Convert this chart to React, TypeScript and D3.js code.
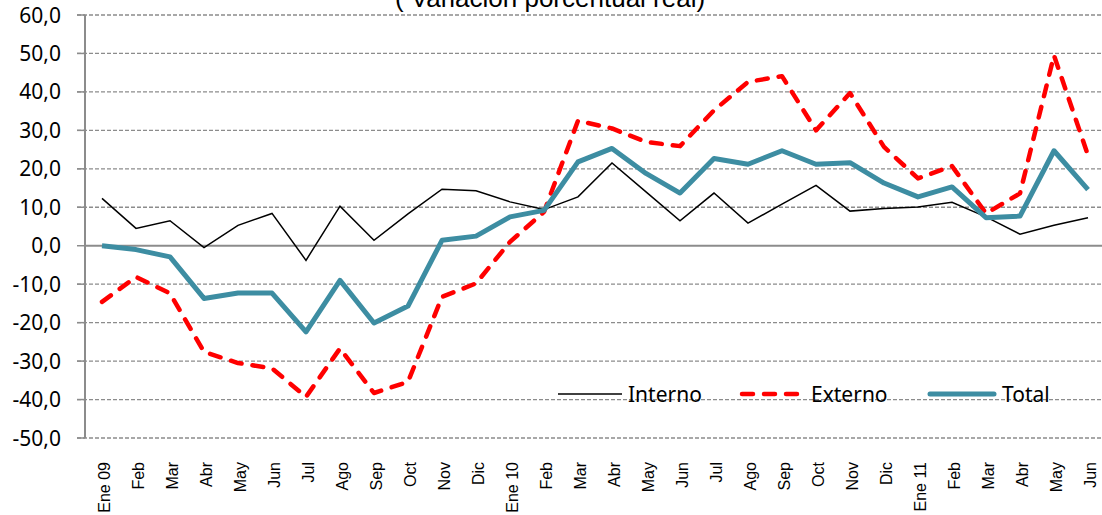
import React from "react";
import * as d3 from "d3";

const months = [
  "Ene 09", "Feb", "Mar", "Abr", "May", "Jun", "Jul", "Ago", "Sep", "Oct", "Nov", "Dic",
  "Ene 10", "Feb", "Mar", "Abr", "May", "Jun", "Jul", "Ago", "Sep", "Oct", "Nov", "Dic",
  "Ene 11", "Feb", "Mar", "Abr", "May", "Jun",
];

const interno = [
  12.3, 4.5, 6.5, -0.5, 5.3, 8.4, -3.8, 10.3, 1.4, 8.3, 14.7, 14.3,
  11.4, 9.4, 12.7, 21.5, 14.0, 6.5, 13.7, 5.9, 10.8, 15.7, 9.0, 9.7,
  10.1, 11.3, 7.5, 3.0, 5.3, 7.3,
];

const externo = [
  -14.6, -8.1, -12.4, -27.6, -30.5, -31.9, -39.3, -26.7, -38.3, -35.4, -13.3, -9.8,
  1.0, 8.8, 32.5, 30.5, 27.0, 25.9, 35.2, 42.6, 44.1, 30.0, 39.7, 25.7,
  17.5, 20.7, 8.4, 13.6, 49.5, 23.5,
];

const total = [
  0.0, -1.0, -2.9, -13.7, -12.3, -12.3, -22.4, -9.0, -20.1, -15.7, 1.4, 2.5,
  7.5, 9.2, 21.8, 25.3, 18.8, 13.7, 22.7, 21.2, 24.7, 21.2, 21.6, 16.3,
  12.7, 15.3, 7.3, 7.7, 24.7, 14.6,
];

const yTicks = [60, 50, 40, 30, 20, 10, 0, -10, -20, -30, -40, -50];

const title = "( Variación porcentual real)";

const W = 1102;
const H = 515;

export default function App() {
  const idx = months.map((_, i) => String(i));
  const x = d3.scaleBand<string>().domain(idx).range([85, 1105]).paddingInner(0).paddingOuter(0);
  const y = d3.scaleLinear().domain([-50, 60]).range([438, 15]);
  const cx = (i: number) => (x(String(i)) as number) + x.bandwidth() / 2;

  const line = d3
    .line<number>()
    .x((_, i) => cx(i))
    .y((d) => y(d));

  const gray = "#8c8c8c";
  const teal = "#3d8da2";
  const sans = "'Noto Sans', 'Open Sans', sans-serif";
  const arial = "'Liberation Sans', Arial, sans-serif";

  return (
    <svg
      width={W}
      height={H}
      viewBox={`0 0 ${W} ${H}`}
      style={{ position: "absolute", left: 0, top: 0, background: "#fff" }}
    >
      <rect x={0} y={0} width={W} height={H} fill="#fff" />
      {/* title */}
      <text x={550} y={7} textAnchor="middle" fontFamily={arial} fontSize={26} fill="#000">
        {title}
      </text>

      {/* gridlines */}
      {yTicks
        .filter((t) => t !== 0)
        .map((t) => (
          <line
            key={"g" + t}
            x1={77}
            x2={W}
            y1={y(t)}
            y2={y(t)}
            stroke={gray}
            strokeWidth={1.3}
            strokeDasharray="4,2"
          />
        ))}
      {/* tick marks on y axis */}
      {yTicks.map((t) => (
        <line key={"t" + t} x1={77} x2={85} y1={y(t)} y2={y(t)} stroke={gray} strokeWidth={1.5} />
      ))}
      {/* y axis */}
      <line x1={85} x2={85} y1={y(60)} y2={y(-50)} stroke={gray} strokeWidth={2} />
      {/* zero axis */}
      <line x1={85} x2={W} y1={y(0)} y2={y(0)} stroke={gray} strokeWidth={2} />

      {/* y labels */}
      {yTicks.map((t) => (
        <text
          key={"l" + t}
          x={61}
          y={y(t)}
          dy="0.36em"
          textAnchor="end"
          fontFamily={sans}
          fontSize={21}
          fill="#000"
        >
          {t.toFixed(1).replace(".", ",")}
        </text>
      ))}

      {/* x labels */}
      {months.map((m, i) => (
        <text
          key={"x" + i}
          transform={`translate(${cx(i) + 7.5},462) rotate(-90)`}
          textAnchor="end"
          fontFamily={arial}
          fontSize={16}
          fill="#000"
        >
          {m}
        </text>
      ))}

      {/* series */}
      <path d={line(interno) || ""} fill="none" stroke="#000" strokeWidth={1.5} strokeLinejoin="miter" />
      <path
        d={line(externo) || ""}
        fill="none"
        stroke="#ff0000"
        strokeWidth={4.5}
        strokeDasharray="11,11"
        strokeLinecap="round"
        strokeLinejoin="round"
      />
      <path d={line(total) || ""} fill="none" stroke={teal} strokeWidth={5} strokeLinejoin="round" />

      {/* legend */}
      <g>
        <line x1={558} x2={622} y1={394} y2={394} stroke="#000" strokeWidth={1.5} />
        <text x={628} y={402} fontFamily={sans} fontSize={21} fill="#000">
          Interno
        </text>
        <line
          x1={742}
          x2={800}
          y1={394}
          y2={394}
          stroke="#ff0000"
          strokeWidth={4.5}
          strokeDasharray="11,11"
          strokeLinecap="round"
        />
        <text x={811} y={402} fontFamily={sans} fontSize={21} fill="#000">
          Externo
        </text>
        <line x1={930} x2={994} y1={394} y2={394} stroke={teal} strokeWidth={5} strokeLinecap="round" />
        <text x={1002} y={402} fontFamily={sans} fontSize={21} fill="#000">
          Total
        </text>
      </g>
    </svg>
  );
}
